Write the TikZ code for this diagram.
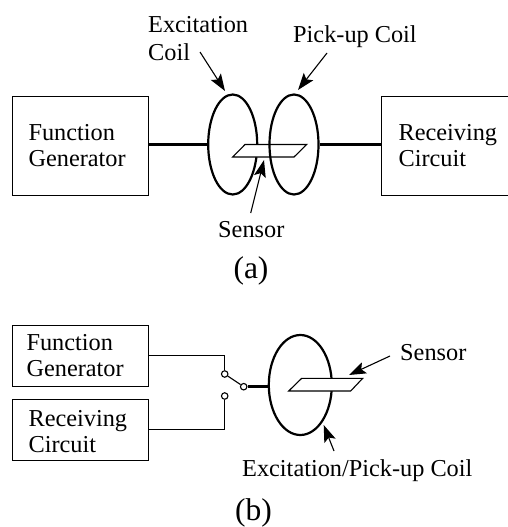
\documentclass[tikz,border=0pt]{standalone}
\usepackage{fontspec}
\setmainfont{Liberation Serif}
\usetikzlibrary{arrows.meta,shapes.geometric}
\tikzset{
  lbl/.style={anchor=base west,inner sep=0pt,font=\fontsize{24.3}{26}\selectfont},
  figcap/.style={anchor=base,inner sep=0pt,font=\fontsize{31.5}{34}\selectfont},
  boxn/.style={draw,line width=1.1pt,anchor=north west,inner xsep=0pt,inner ysep=0pt,
    align=left,font=\fontsize{24.3}{26}\selectfont},
  coil/.style={draw,ellipse,line width=2.2pt,inner sep=0pt,minimum width=#1,minimum height=100pt},
  wire/.style={line width=1.1pt},
  heavy/.style={line width=2.6pt},
  sensorp/.style={draw,fill=white,line width=1.1pt,line join=miter},
  lead/.style={line width=1.1pt,-{Stealth[length=17pt,width=12pt,inset=3.5pt]}},
  term/.style={draw,circle,fill=white,line width=1.1pt,inner sep=0pt,minimum size=6.5pt}
}
\begin{document}
\begin{tikzpicture}[x=1pt,y=-1pt]
\clip (0,0) rectangle (508,527);
% ---- (a)
\node[boxn,minimum width=136pt,minimum height=98.5pt,text width=104pt] (fga) at (12,96) {Function\\Generator};
\node[boxn,minimum width=135pt,minimum height=98.5pt,text width=101pt] (rca) at (381,96) {Receiving\\Circuit};
\node[coil=49pt] (c1) at (232.7,144.5) {};
\coordinate (sa1) at (232.7,157); \coordinate (sa2) at (245,144.5);
\coordinate (sa3) at (306.7,144.5); \coordinate (sa4) at (294,157);
\draw[heavy] (fga.east |- c1.west) -- (c1.west);
\draw[sensorp] (sa1) -- (sa2) -- (sa3) -- (sa4) -- cycle;
\node[coil=49pt] (c2) at (294,144.5) {};
\draw[heavy] (c2.east) -- (rca.west |- c2.east);
\node[lbl] (l1) at (148,33) {Excitation};
\node[lbl] (l2) at (148,60) {Coil};
\node[lbl] (l3) at (293,43) {Pick-up Coil};
\node[lbl] (l4) at (218,237) {Sensor};
\coordinate (a1s) at (200,52); \coordinate (a1e) at (225,91);
\coordinate (a2s) at (327,53); \coordinate (a2e) at (298,90);
\coordinate (a3s) at (250.7,213); \coordinate (a3e) at (264,160);
\draw[lead] (a1s) -- (a1e);
\draw[lead] (a2s) -- (a2e);
\draw[lead] (a3s) -- (a3e);
\node[figcap] (capa) at (251,278) {(a)};
% ---- (b)
\node[boxn,minimum width=136pt,minimum height=61.5pt,text width=108pt] (fgb) at (12,324.5) {Function\\Generator};
\node[boxn,minimum width=136pt,minimum height=61.5pt,text width=104pt] (rcb) at (12,398.5) {\rule{0pt}{20pt}Receiving\\Circuit};
\node[term] (t1) at (224.7,374) {};
\node[term] (t2) at (224.7,396) {};
\node[term] (t3) at (243.7,386.7) {};
\draw[wire] (fgb.east) -| (t1.north);
\draw[wire] (rcb.east) -| (t2.south);
\draw[wire] (t1) -- (t3);
\node[coil=63pt] (c3) at (300.3,385) {};
\draw[heavy] (t3.east) -- (c3.west |- t3.east);
\coordinate (sb1) at (288.7,391); \coordinate (sb2) at (301.7,378.3);
\coordinate (sb3) at (362.7,378.3); \coordinate (sb4) at (350.7,391);
\draw[sensorp] (sb1) -- (sb2) -- (sb3) -- (sb4) -- cycle;
\node[lbl] (l5) at (400,360) {Sensor};
\node[lbl] (l6) at (242,476) {Excitation/Pick-up Coil};
\coordinate (b1s) at (390,356); \coordinate (b1e) at (349,375);
\coordinate (b2s) at (334,451); \coordinate (b2e) at (323.7,425);
\draw[lead] (b1s) -- (b1e);
\draw[lead] (b2s) -- (b2e);
\node[figcap] (capb) at (253.5,520.5) {(b)};
\end{tikzpicture}
\end{document}
